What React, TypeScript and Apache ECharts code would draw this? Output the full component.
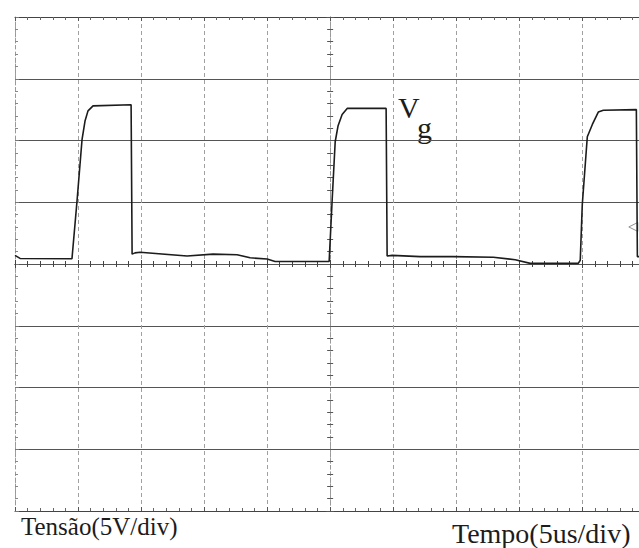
import React, { useEffect, useRef } from "react";
import * as echarts from "echarts";

// Gate voltage trace: time in microseconds (trigger at 0), voltage in volts
const timeUs = [
  -25.0, -24.6, -20.48, -20.08, -19.68, -19.44, -19.21, -18.81, -15.79, -15.71,
  -15.48, -15.08, -11.35, -9.29, -7.38, -6.35, -5.0, -4.37, -0.79, -0.24,
  -0.08, 0.16, 0.4, 0.63, 0.95, 1.35, 4.44, 4.52, 4.92, 7.14,
  9.76, 12.94, 14.68, 15.87, 19.68, 19.84, 20.0, 20.4, 20.8, 21.27,
  21.67, 24.29, 24.37, 24.5,
];
const gateVolts = [
  0.7, 0.45, 0.43, 5.1, 10.1, 11.6, 12.4, 12.8, 12.9, 0.8,
  0.9, 0.95, 0.65, 0.8, 0.75, 0.5, 0.4, 0.2, 0.2, 0.2,
  0.2, 5.2, 9.9, 11.2, 12.1, 12.6, 12.6, 0.65, 0.7, 0.6,
  0.6, 0.55, 0.35, 0.05, 0.05, 0.3, 4.8, 10.3, 11.3, 12.3,
  12.45, 12.5, 0.6, 0.6,
];

// Screen settings: 5 us/div horizontally, 5 V/div vertically
const timeRange = [-25, 24.5];
const voltRange = [-20, 20];
const timePerDiv = 5;
const voltsPerDiv = 5;

// Trigger level marker on the right edge
const triggerMarker = [[24.05, 3.0]];

const voltLabel = "Tensão(5V/div)";
const timeLabel = "Tempo(5us/div)";
const traceName = "V";
const traceSub = "g";

const serif = "Liberation Serif";
const ink = "#1c1c1c";

export default function App() {
  const ref = useRef<HTMLDivElement>(null);

  useEffect(() => {
    if (!ref.current) return;
    const chart = echarts.init(ref.current, undefined, { renderer: "svg" });

    const gridRect = { left: 15, right: 0, top: 17, bottom: 37 };

    const centreX = (position: "bottom" | "top") => ({
      type: "value" as const,
      gridIndex: 0,
      position,
      min: timeRange[0],
      max: timeRange[1],
      interval: timePerDiv,
      axisLine: { show: true, onZero: true, lineStyle: { color: "#555", width: 1, type: [3, 2] } },
      axisTick: { show: true, length: 4, lineStyle: { color: "#444" } },
      minorTick: { show: true, splitNumber: 5, length: 3, lineStyle: { color: "#444" } },
      axisLabel: { show: false },
      splitLine: { show: false },
    });

    const centreY = (position: "left" | "right") => ({
      type: "value" as const,
      gridIndex: 0,
      position,
      min: voltRange[0],
      max: voltRange[1],
      interval: voltsPerDiv,
      axisLine: { show: true, onZero: true, lineStyle: { color: "#999", width: 1, type: [3, 3] } },
      axisTick: { show: true, length: 4, lineStyle: { color: "#555" } },
      minorTick: { show: true, splitNumber: 5, length: 3, lineStyle: { color: "#555" } },
      axisLabel: { show: false },
      splitLine: { show: false },
    });

    const borderX = (position: "bottom" | "top") => ({
      type: "value" as const,
      gridIndex: 1,
      position,
      min: timeRange[0],
      max: timeRange[1],
      interval: timePerDiv,
      axisLine: { show: true, onZero: false, lineStyle: { color: "#444", width: 1 } },
      axisTick: { show: true, inside: true, length: 4, lineStyle: { color: "#555" } },
      minorTick: { show: true, splitNumber: 5, length: 3, lineStyle: { color: "#666" } },
      axisLabel: { show: false },
      splitLine: position === "bottom"
        ? { show: true, lineStyle: { color: "#a0a0a0", width: 1, type: [4, 3] } }
        : { show: false },
    });

    const borderY = {
      type: "value" as const,
      gridIndex: 1,
      position: "left" as const,
      min: voltRange[0],
      max: voltRange[1],
      interval: voltsPerDiv,
      axisLine: { show: true, onZero: false, lineStyle: { color: "#999", width: 1, type: [3, 3] } },
      axisTick: { show: true, inside: true, length: 4, lineStyle: { color: "#777" } },
      minorTick: { show: true, splitNumber: 5, length: 3, lineStyle: { color: "#888" } },
      axisLabel: { show: false },
      splitLine: { show: true, lineStyle: { color: "#555", width: 1 } },
    };

    const label = (text: string, left: number, top: number, size: number) => ({
      type: "text",
      left,
      top,
      style: { text, fontFamily: serif, fontSize: size, fontWeight: "normal", fill: ink },
    });

    chart.setOption({
      animation: false,
      backgroundColor: "#ffffff",
      grid: [
        { ...gridRect, containLabel: false },
        { ...gridRect, containLabel: false },
      ],
      xAxis: [centreX("bottom"), centreX("top"), borderX("bottom"), borderX("top")],
      yAxis: [centreY("left"), centreY("right"), borderY],
      series: [
        {
          type: "line",
          xAxisIndex: 0,
          yAxisIndex: 0,
          data: timeUs.map((t, i) => [t, gateVolts[i]]),
          showSymbol: false,
          symbol: "none",
          lineStyle: { color: ink, width: 1.6 },
          z: 5,
        },
        {
          type: "scatter",
          xAxisIndex: 0,
          yAxisIndex: 0,
          data: triggerMarker,
          symbol: "triangle",
          symbolRotate: 90,
          symbolSize: 9,
          itemStyle: { color: "rgba(0,0,0,0)", borderColor: "#777", borderWidth: 1 },
          z: 4,
        },
      ],
      graphic: [
        label(traceName, 398, 92, 30),
        label(traceSub, 417, 112, 30),
        label(voltLabel, 21, 514, 25),
        label(timeLabel, 452, 519, 28),
      ],
    });

    return () => chart.dispose();
  }, []);

  return (
    <div
      ref={ref}
      style={{ position: "absolute", left: 0, top: 0, width: 639, height: 548 }}
    />
  );
}
